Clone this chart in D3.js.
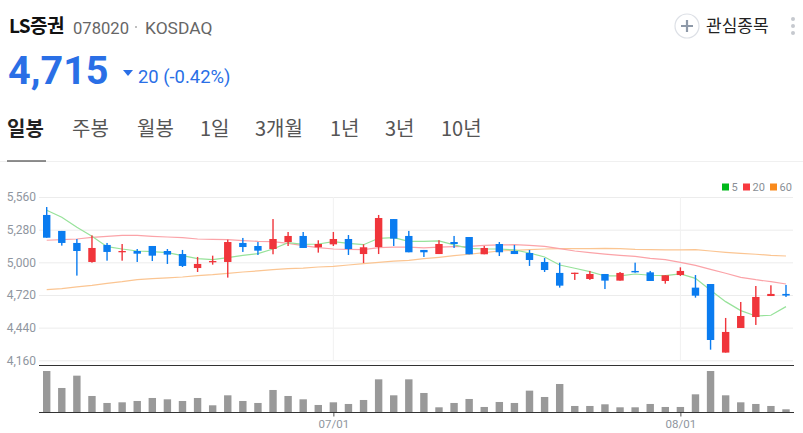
<!DOCTYPE html>
<head>
  <meta charset="utf-8">
  <script src="https://cdn.jsdelivr.net/npm/d3@7"></script>
  <style>
    html, body { margin: 0; padding: 0; background: #fff; overflow: hidden }
    svg { display: block }
    text { font-family: "Noto Sans CJK KR", "Noto Sans", sans-serif }
    .num { font-family: Roboto, "Noto Sans", sans-serif }
  </style>
</head>
<body>
<svg width="803" height="433"></svg>
<script>
var open  = [5406,5269,5166,5003,5149,5086,5097,5140,5097,5071,4951,5000,5003,5166,5140,5114,5174,5226,5129,5154,5200,5071,5131,5371,5226,5106,5071,5174,5217,5069,5157,5097,5080,5003,4909,4900,4857,4900,4843,4926,4914,4840,4891,4783,4814,4226,4437,4531,4711,4729]
var close = [5211,5166,5097,5123,5089,5097,5074,5057,5066,4969,4986,5011,5174,5131,5100,5200,5226,5123,5157,5200,5114,5129,5380,5203,5086,5086,5157,5157,5069,5123,5086,5071,5020,4934,4800,4911,4900,4843,4909,4914,4840,4889,4926,4714,4334,4403,4540,4703,4729,4715]
var high  = [5474,5269,5200,5231,5166,5157,5114,5140,5114,5106,5046,5057,5194,5209,5174,5371,5260,5260,5189,5260,5234,5154,5406,5371,5269,5106,5189,5226,5217,5140,5174,5149,5106,5037,4997,4911,4926,4900,4917,4997,4926,4889,4957,4891,4814,4523,4660,4797,4803,4806]
var low   = [5211,5143,4886,4997,5014,5014,5003,5011,4986,4960,4917,4980,4869,5089,5063,5069,5140,5123,5083,5140,5063,4994,5071,5140,5086,5046,5071,5123,5069,5069,5054,5071,4969,4917,4783,4849,4849,4771,4843,4911,4840,4817,4883,4697,4251,4226,4437,4463,4711,4703]

var ma5  = [5446,5386,5300,5223,5134,5114,5097,5091,5083,5057,5031,5023,5040,5060,5074,5114,5169,5154,5157,5177,5163,5151,5206,5211,5180,5180,5183,5149,5120,5114,5114,5106,5080,5046,4977,4949,4920,4883,4883,4900,4889,4886,4900,4863,4760,4663,4586,4540,4546,4620]
var ma20 = [5189,5194,5200,5214,5223,5231,5231,5223,5217,5211,5200,5197,5194,5186,5180,5177,5163,5143,5126,5114,5111,5109,5126,5131,5131,5123,5131,5134,5137,5146,5149,5151,5146,5137,5117,5097,5083,5071,5060,5051,5034,5023,5000,4974,4940,4906,4871,4851,4834,4814]
var ma60 = [4766,4774,4789,4803,4820,4834,4851,4860,4866,4874,4886,4894,4906,4917,4926,4937,4946,4951,4960,4966,4977,4989,5000,5011,5017,5031,5043,5057,5069,5083,5097,5103,5109,5114,5117,5117,5117,5120,5117,5111,5109,5106,5106,5109,5097,5086,5077,5069,5060,5054]

var volume = [124,73,110,49,28,30,34,43,39,34,43,21,51,34,28,67,49,39,22,30,25,37,99,51,99,58,15,28,40,16,31,28,65,46,85,19,19,24,15,15,25,16,16,54,124,51,30,25,19,9]

var priceTicks = [5560,5280,5000,4720,4440,4160]
var dayTicks = [19,42]
var dayLabels = ['07/01','08/01']
var tabs = ['일봉','주봉','월봉','1일','3개월','1년','3년','10년']
var tabX = [7,72,137,200,255,330,385,441]
var legendNames = ['5','20','60']
var legendColors = ['#00b91a','#f8393f','#f98a1c']
var legendX = [722,743,770]

var UP = '#f0353b', DOWN = '#0a7cf0'
var svg = d3.select('svg')

var x = d3.scaleLinear().domain([0,49]).range([46.7,786])
var y = d3.scaleLinear().domain([4160,5560]).range([360.3,197])
var yVol = d3.scaleLinear().domain([0,124]).range([412.3,371])
var days = d3.range(open.length)

// header
svg.append('text').attr('x',9).attr('y',33).attr('font-size',19).attr('font-weight',700).attr('fill','#111').attr('letter-spacing',-0.6).text('LS증권')
svg.append('text').attr('class','num').attr('x',73).attr('y',33.5).attr('font-size',16.6).attr('fill','#666').text('078020')
svg.append('circle').attr('cx',136).attr('cy',27).attr('r',1).attr('fill','#aaa')
svg.append('text').attr('class','num').attr('x',145).attr('y',33.5).attr('font-size',17.4).attr('fill','#666').text('KOSDAQ')

svg.append('text').attr('class','num').attr('x',8).attr('y',84).attr('font-size',39.6).attr('font-weight',700).attr('fill','#2a6fe6').text('4,715')
svg.append('path').attr('d','M123 70h10l-5 6z').attr('fill','#2a6fe6')
svg.append('text').attr('class','num').attr('x',138).attr('y',83).attr('font-size',18.4).attr('fill','#2a6fe6').text('20 (-0.42%)')

svg.append('circle').attr('cx',687).attr('cy',26).attr('r',12).attr('fill','#fff').attr('stroke','#dde0e6').attr('stroke-width',1.2)
svg.append('path').attr('d','M681 26h12M687 20v12').attr('stroke','#8e99a8').attr('stroke-width',2.2)
svg.append('text').attr('x',706).attr('y',32).attr('font-size',17).attr('fill','#222').text('관심종목')
svg.selectAll('.dot').data([19,26,33]).enter().append('circle').attr('cx',793).attr('cy',function (d) { return d }).attr('r',2).attr('fill','#c6c9cf')

// tabs
svg.selectAll('.tab').data(tabs).enter().append('text')
  .attr('x',function (d,i) { return tabX[i] })
  .attr('y',136)
  .attr('font-size',20)
  .attr('font-weight',function (d,i) { return i == 0 ? 700 : 400 })
  .attr('fill',function (d,i) { return i == 0 ? '#222' : '#555' })
  .text(function (d) { return d })
svg.append('rect').attr('x',0).attr('y',161).attr('width',803).attr('height',1).attr('fill','#f0f0f0')
svg.append('rect').attr('x',7).attr('y',160.5).attr('width',39).attr('height',1).attr('fill','#222')

// legend
legendNames.forEach(function (name,i) {
  svg.append('rect').attr('x',legendX[i]).attr('y',183.5).attr('width',7).attr('height',7).attr('fill',legendColors[i])
  svg.append('text').attr('class','num').attr('x',legendX[i]+9.5).attr('y',191).attr('font-size',11).attr('fill','#8a8f96').text(name)
})

// price axis and grid
var yAxis = d3.axisLeft(y).tickValues(priceTicks).tickSize(-754).tickPadding(3).tickFormat(d3.format(','))
var gy = svg.append('g').attr('transform','translate(39,0)').call(yAxis)
gy.select('.domain').remove()
gy.selectAll('.tick line').attr('stroke','#ececec')
gy.selectAll('.tick text').attr('class','num').attr('font-size',12).attr('fill','#8f96a0')

svg.selectAll('.vgrid').data(dayTicks).enter().append('line')
  .attr('x1',function (d) { return x(d) }).attr('x2',function (d) { return x(d) })
  .attr('y1',197).attr('y2',360.3)
  .attr('stroke','#f1f1f1')

// moving averages
var line = d3.line().x(function (d,i) { return x(i) }).y(function (d) { return y(d) })
svg.append('path').datum(ma60).attr('d',line).attr('fill','none').attr('stroke','#fbc592').attr('stroke-width',1.2)
svg.append('path').datum(ma20).attr('d',line).attr('fill','none').attr('stroke','#fba3a8').attr('stroke-width',1.2)
svg.append('path').datum(ma5).attr('d',line).attr('fill','none').attr('stroke','#97e29a').attr('stroke-width',1.2)

// candles
function candleColor(i) { return close[i] >= open[i] ? UP : DOWN }
svg.selectAll('.wick').data(days).enter().append('rect')
  .attr('x',function (i) { return x(i)-0.7 })
  .attr('y',function (i) { return y(high[i]) })
  .attr('width',1.4)
  .attr('height',function (i) { return y(low[i])-y(high[i]) })
  .attr('fill',candleColor)
svg.selectAll('.body').data(days).enter().append('rect')
  .attr('x',function (i) { return x(i)-3.7 })
  .attr('y',function (i) { return y(Math.max(open[i],close[i])) })
  .attr('width',7.4)
  .attr('height',function (i) { return Math.max(1.2,Math.abs(y(open[i])-y(close[i]))) })
  .attr('fill',candleColor)

// volume panel
svg.selectAll('.vol').data(days).enter().append('rect')
  .attr('x',function (i) { return x(i)-3.7 })
  .attr('y',function (i) { return yVol(volume[i]) })
  .attr('width',7.4)
  .attr('height',function (i) { return yVol(0)-yVol(volume[i]) })
  .attr('fill','#999')

svg.append('line').attr('x1',39).attr('x2',794).attr('y1',365.5).attr('y2',365.5).attr('stroke','#333')

var xAxis = d3.axisBottom(x).tickValues(dayTicks).tickSize(4).tickPadding(3).tickFormat(function (d,i) { return dayLabels[i] })
var gx = svg.append('g').attr('transform','translate(0,412.5)').call(xAxis)
gx.select('.domain').remove()
gx.selectAll('.tick line').attr('stroke','#555')
gx.selectAll('.tick text').attr('class','num').attr('font-size',11.5).attr('fill','#8f96a0')
svg.append('line').attr('x1',39).attr('x2',794).attr('y1',412.5).attr('y2',412.5).attr('stroke','#333')
</script>
</body>
